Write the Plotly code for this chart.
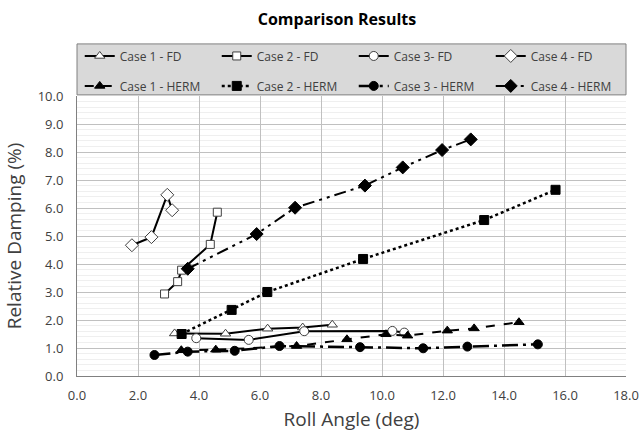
import plotly.graph_objects as go

# ---- data ----
c1_fd_x = [3.20, 4.87, 6.25, 7.40, 8.37]
c1_fd_y = [1.52, 1.51, 1.69, 1.73, 1.83]
c2_fd_x = [2.87, 3.30, 3.43, 4.37, 4.60]
c2_fd_y = [2.93, 3.37, 3.78, 4.70, 5.85]
c3_fd_x = [3.91, 5.63, 7.45, 10.34, 10.73]
c3_fd_y = [1.35, 1.29, 1.60, 1.61, 1.55]
c4_fd_x = [1.80, 2.44, 2.96, 3.12]
c4_fd_y = [4.67, 4.96, 6.47, 5.92]

c1_herm_x = [3.42, 4.55, 7.20, 8.85, 10.13, 10.84, 12.14, 13.02, 14.49]
c1_herm_y = [0.92, 0.94, 1.07, 1.31, 1.49, 1.44, 1.62, 1.70, 1.92]
c2_herm_x = [3.43, 5.07, 6.24, 9.38, 13.35, 15.69]
c2_herm_y = [1.50, 2.36, 3.00, 4.18, 5.57, 6.65]
c3_herm_x = [2.54, 3.63, 5.17, 6.64, 9.28, 11.35, 12.80, 15.11]
c3_herm_y = [0.75, 0.87, 0.90, 1.07, 1.03, 0.99, 1.05, 1.13]
c4_herm_x = [3.63, 5.89, 7.15, 9.44, 10.68, 11.97, 12.91]
c4_herm_y = [3.83, 5.07, 6.01, 6.80, 7.45, 8.07, 8.45]

FONT = "Open Sans"
fig = go.Figure()

fd = [
    ("Case 1 - FD", c1_fd_x, c1_fd_y, "triangle-up", 9),
    ("Case 2 - FD", c2_fd_x, c2_fd_y, "square", 8),
    ("Case 3- FD", c3_fd_x, c3_fd_y, "circle", 9),
    ("Case 4 - FD", c4_fd_x, c4_fd_y, "diamond", 10),
]
for name, x, y, sym, sz in fd:
    fig.add_trace(go.Scatter(
        x=x, y=y, name=name, mode="lines+markers", legend="legend",
        line=dict(color="black", width=2),
        marker=dict(symbol=sym, size=sz, color="white",
                    line=dict(color="#404040", width=1)),
    ))

herm = [
    ("Case 1 - HERM", c1_herm_x, c1_herm_y, "triangle-up", 9, "dash", 2),
    ("Case 2 - HERM", c2_herm_x, c2_herm_y, "square", 9, "dot", 2.5),
    ("Case 3 - HERM", c3_herm_x, c3_herm_y, "circle", 9, "16px,5px,3px,5px", 2.5),
    ("Case 4 - HERM", c4_herm_x, c4_herm_y, "diamond", 10, "12px,5px,3px,5px,3px,5px", 2),
]
for name, x, y, sym, sz, dash, w in herm:
    fig.add_trace(go.Scatter(
        x=x, y=y, name=name, mode="lines+markers", legend="legend2",
        line=dict(color="black", width=w, dash=dash),
        marker=dict(symbol=sym, size=sz, color="black",
                    line=dict(color="black", width=1)),
    ))

legend_common = dict(
    orientation="h", xanchor="left", yanchor="middle",
    bgcolor="rgba(0,0,0,0)", borderwidth=0,
    entrywidth=92, entrywidthmode="pixels", itemwidth=30,
    font=dict(family=FONT, size=12, color="#404040"),
    traceorder="normal",
)

fig.update_layout(
    width=639, height=432,
    margin=dict(l=77, r=13, t=96, b=56, autoexpand=False),
    paper_bgcolor="white", plot_bgcolor="white",
    title=dict(text="<b>Comparison Results</b>", x=337 / 639, xanchor="center",
               y=1 - 19 / 432, yanchor="middle",
               font=dict(family=FONT, size=16, color="#000000")),
    showlegend=True,
    legend=dict(x=0.005, y=1.143, **legend_common),
    legend2=dict(x=0.005, y=1.036, **legend_common),
    xaxis=dict(
        range=[0, 18], dtick=2, tickformat=".1f",
        showgrid=True, gridcolor="#c0c0c0", gridwidth=1,
        showline=True, linecolor="#808080", linewidth=1,
        zeroline=False, ticks="", ticklabeloverflow="allow",
        ticklabelstandoff=7,
        tickfont=dict(family=FONT, size=13, color="#404040"),
        title=dict(text="Roll Angle (deg)", standoff=13,
                   font=dict(family=FONT, size=19, color="#404040")),
    ),
    yaxis=dict(
        range=[0, 10], dtick=1, tickformat=".1f",
        showgrid=True, gridcolor="#c0c0c0", gridwidth=1,
        showline=True, linecolor="#808080", linewidth=1,
        zeroline=False, ticks="", ticklabeloverflow="allow",
        ticklabelstandoff=10,
        minor=dict(dtick=0.2, showgrid=True, gridcolor="#efefef", gridwidth=1),
        tickfont=dict(family=FONT, size=13, color="#404040"),
        title=dict(text="Relative Damping (%)", standoff=11,
                   font=dict(family=FONT, size=19, color="#404040")),
    ),
    shapes=[dict(
        type="rect", xref="paper", yref="paper",
        x0=0.0, x1=1.0, y0=1.004, y1=1.186,
        fillcolor="#d9d9d9", line=dict(color="#808080", width=1),
        layer="below",
    )],
)

fig.write_html("out.html", config={"displayModeBar": False},
               post_script="document.body.style.margin='0';")
